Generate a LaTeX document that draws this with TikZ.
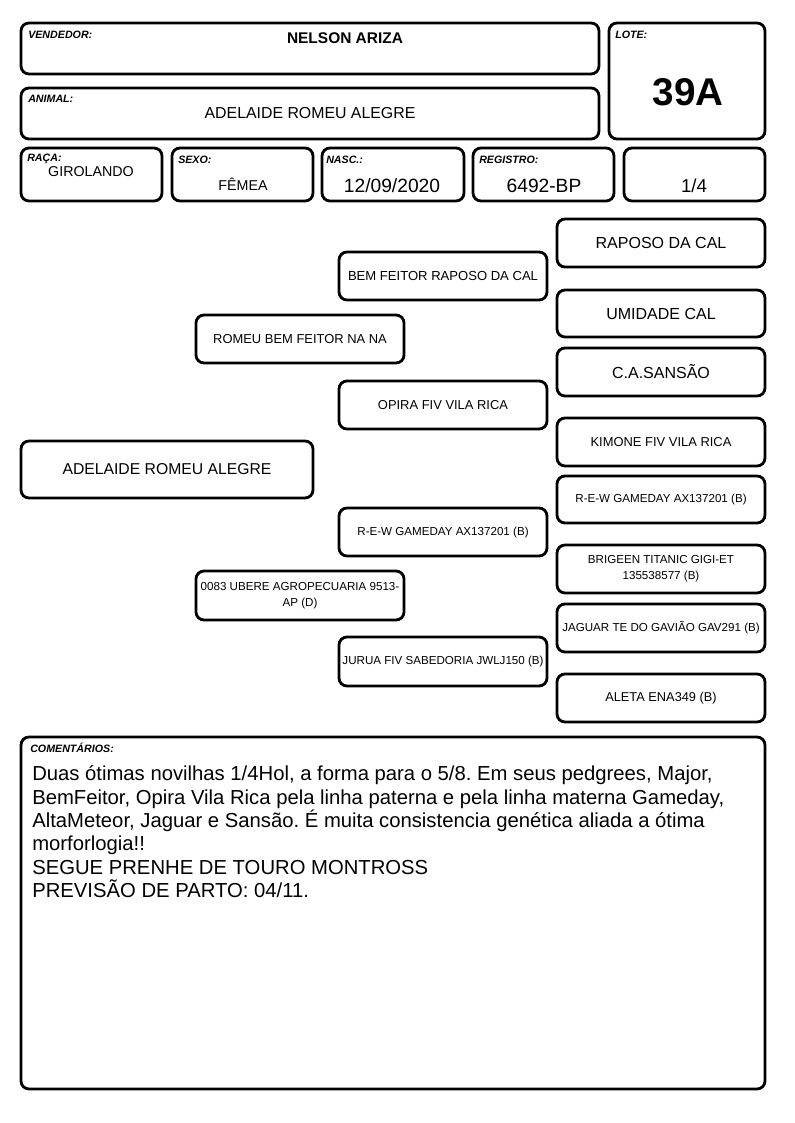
\documentclass[tikz,border=0pt]{standalone}
\usepackage{fontspec}
\setmainfont{Liberation Sans}
\begin{document}
\begin{tikzpicture}[x=0.75pt,y=-0.75pt,
  box/.style={draw=black, line width=2.1pt, rounded corners=6pt, fill=white, inner sep=1pt, align=center, text=black},
  lbl/.style={anchor=west, inner sep=0pt, font=\fontsize{8}{9}\selectfont\bfseries\itshape},
  val/.style={inner sep=0pt},
  cline/.style={anchor=base west, inner sep=0pt, font=\fontsize{15.2}{17}\selectfont\frenchspacing},
]
\useasboundingbox (0,0) rectangle (794,1123);
\newcommand{\bx}[7][]{\node[box, #1, minimum width={(#5-#3)*0.75pt}, minimum height={(#6-#4)*0.75pt}] (#2) at ({(#3+#5)/2},{(#4+#6)/2}) {#7};}
% header
\bx{vend}{21}{23}{599}{74}{}
\bx{lote}{609}{23}{765}{139}{}
\bx{anim}{21}{88}{599}{139}{}
\bx{raca}{21}{148}{162}{201}{}
\bx{sexo}{172}{148}{313}{201}{}
\bx{nasc}{322}{148}{464}{201}{}
\bx{regi}{473}{148}{614}{201}{}
\bx{frac}{624}{148}{765}{201}{}
\node[lbl] (lvend) at (28,35) {VENDEDOR:};
\node[lbl] (llote) at (615,35) {LOTE:};
\node[lbl] (lanim) at (28,99) {ANIMAL:};
\node[lbl] (lraca) at (27,159) {RAÇA:};
\node[lbl] (lsexo) at (178,160) {SEXO:};
\node[lbl] (lnasc) at (326,160) {NASC.:};
\node[lbl] (lregi) at (479,160) {REGISTRO:};
\node[val, font=\fontsize{11.6}{13}\selectfont\bfseries] (vvend) at (345,38) {NELSON ARIZA};
\node[val, font=\fontsize{29}{30}\selectfont\bfseries] (vlote) at (688,92) {39A};
\node[val, font=\fontsize{11.9}{13}\selectfont] (vanim) at (310,113) {ADELAIDE ROMEU ALEGRE};
\node[val, font=\fontsize{10.7}{12}\selectfont] (vraca) at (91,172) {GIROLANDO};
\node[val, font=\fontsize{10.7}{12}\selectfont] (vsexo) at (243,184) {FÊMEA};
\node[val, font=\fontsize{14.4}{16}\selectfont] (vnasc) at (392,186) {12/09/2020};
\node[val, font=\fontsize{14.4}{16}\selectfont] (vregi) at (544,186) {6492-BP};
\node[val, font=\fontsize{14}{16}\selectfont] (vfrac) at (694,186) {1/4};
% pedigree
\bx[font=\fontsize{11.8}{13}\selectfont]{p0}{21}{441}{313}{498}{ADELAIDE ROMEU ALEGRE}
\bx[font=\fontsize{9.7}{11}\selectfont]{p1}{196}{315}{404}{363}{ROMEU BEM FEITOR NA NA}
\bx[font=\fontsize{8.7}{11.5}\selectfont]{p2}{196}{571}{404}{620}{0083 UBERE AGROPECUARIA 9513-\\AP (D)}
\bx[font=\fontsize{9.8}{11}\selectfont]{p11}{339}{252}{547}{300}{BEM FEITOR RAPOSO DA CAL}
\bx[font=\fontsize{9.7}{11}\selectfont]{p12}{339}{381}{547}{429}{OPIRA FIV VILA RICA}
\bx[font=\fontsize{8.7}{11}\selectfont]{p21}{339}{508}{547}{556}{R-E-W GAMEDAY AX137201 (B)}
\bx[font=\fontsize{8.7}{11}\selectfont]{p22}{339}{637}{547}{686}{JURUA FIV SABEDORIA JWLJ150 (B)}
\bx[font=\fontsize{12}{13}\selectfont]{p111}{557}{219}{765}{267}{RAPOSO DA CAL}
\bx[font=\fontsize{12}{13}\selectfont]{p112}{557}{290}{765}{337}{UMIDADE CAL}
\bx[font=\fontsize{12}{13}\selectfont]{p121}{557}{348}{765}{396}{C.A.SANSÃO}
\bx[font=\fontsize{9.7}{11}\selectfont]{p122}{557}{418}{765}{466}{KIMONE FIV VILA RICA}
\bx[font=\fontsize{8.7}{11}\selectfont]{p211}{557}{476}{765}{523}{R-E-W GAMEDAY AX137201 (B)}
\bx[font=\fontsize{8.7}{11.8}\selectfont]{p212}{557}{545}{765}{593}{BRIGEEN TITANIC GIGI-ET\\135538577 (B)}
\bx[font=\fontsize{8.7}{11}\selectfont]{p221}{557}{604}{765}{652}{JAGUAR TE DO GAVIÃO GAV291 (B)}
\bx[font=\fontsize{9.6}{11}\selectfont]{p222}{557}{674}{765}{722}{ALETA ENA349 (B)}
% comments
\bx{com}{21}{737}{765}{1089}{}
\node[lbl] (lcom) at (30,748) {COMENTÁRIOS:};
\node[cline] (c1) at (32,780.7) {Duas ótimas novilhas 1/4Hol, a forma para o 5/8. Em seus pedgrees, Major,};
\node[cline] (c2) at (32,804.1) {BemFeitor, Opira Vila Rica pela linha paterna e pela linha materna Gameday,};
\node[cline] (c3) at (32,827.5) {AltaMeteor, Jaguar e Sansão. É muita consistencia genética aliada a ótima};
\node[cline] (c4) at (32,850.9) {morforlogia!!};
\node[cline] (c5) at (32,874.3) {SEGUE PRENHE DE TOURO MONTROSS};
\node[cline] (c6) at (32,897.7) {PREVISÃO DE PARTO: 04/11.};
\end{tikzpicture}
\end{document}
